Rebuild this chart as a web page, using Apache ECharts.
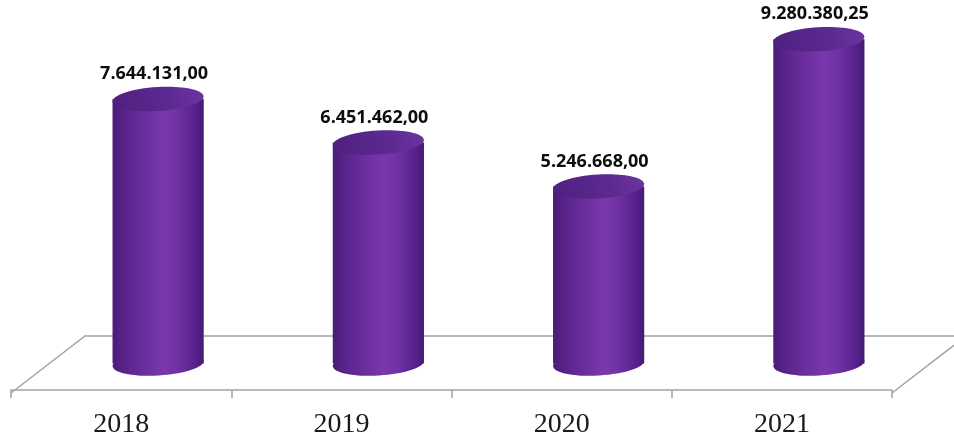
<!DOCTYPE html>
<html>
<head>
<meta charset="utf-8">
<style>
  html, body { margin: 0; padding: 0; background: #ffffff; }
  #chart { width: 954px; height: 439px; }
</style>
<script src="https://cdn.jsdelivr.net/npm/echarts@6/dist/echarts.min.js"></script>
</head>
<body>
<div id="chart"></div>
<script>
// Yearly totals
const categories = ['2018', '2019', '2020', '2021'];
const values = [7644131.00, 6451462.00, 5246668.00, 9280380.25];

// Layout of the pseudo-3D floor
const W = 954, H = 439;
const PLOT = { left: 11, right: 62, top: 13, bottom: 61 };   // cylinders (value 0 at bottom)
const FRONT_BOTTOM = 46;     // front edge of the floor, where the category axis is drawn
const DEPTH_X = 74;          // horizontal shift of the floor's back edge
const DEPTH_Y = 57;          // vertical shift of the floor's back edge
const TILT = 0.06;           // slight rotation of the cylinder caps

const axisY = H - FRONT_BOTTOM;
const frontL = PLOT.left, frontR = W - PLOT.right;

function formatNumber(v) {
  const fixed = v.toFixed(2);
  const parts = fixed.split('.');
  const intPart = parts[0].replace(/\B(?=(\d{3})+(?!\d))/g, '.');
  return intPart + ',' + parts[1];
}

const bodyStops = [
  { offset: 0, color: '#4a1b77' },
  { offset: 0.18, color: '#5d268f' },
  { offset: 0.55, color: '#7a37ad' },
  { offset: 0.7, color: '#7132a4' },
  { offset: 0.92, color: '#55208a' },
  { offset: 1, color: '#461a6f' }
];

function renderCylinder(params, api) {
  const idx = api.value(0);
  const top = api.coord([idx, api.value(1)]);
  const band = api.size([1, 0])[0];
  const rx = band * 0.207;
  const ry = 12;
  const cx = top[0] + DEPTH_X / 2;
  const baseY = axisY - DEPTH_Y / 2 - 1;
  const topY = top[1];
  const bodyFill = () => new echarts.graphic.LinearGradient(0, 0, 1, 0, bodyStops);
  return {
    type: 'group',
    children: [
      {
        type: 'ellipse',
        x: cx, y: baseY, rotation: TILT,
        shape: { cx: 0, cy: 0, rx: rx, ry: ry },
        style: { fill: bodyFill() }
      },
      {
        type: 'rect',
        shape: { x: cx - rx, y: topY, width: rx * 2, height: baseY - topY },
        style: { fill: bodyFill() }
      },
      {
        type: 'ellipse',
        x: cx, y: topY, rotation: TILT,
        shape: { cx: 0, cy: 0, rx: rx, ry: ry },
        style: {
          fill: new echarts.graphic.LinearGradient(0, 1, 1, 0, [
            { offset: 0, color: '#4e2080' },
            { offset: 0.6, color: '#5c2990' },
            { offset: 1, color: '#6c35a2' }
          ])
        }
      },
      {
        type: 'text',
        x: cx - 4, y: topY - 25,
        style: {
          text: formatNumber(api.value(1)),
          fontFamily: 'Open Sans',
          fontWeight: 'bold',
          fontSize: 18,
          fill: '#0d0d0d',
          align: 'center',
          verticalAlign: 'middle'
        }
      }
    ]
  };
}

const chart = echarts.init(document.getElementById('chart'), null, { renderer: 'canvas' });

chart.setOption({
  animation: false,
  backgroundColor: '#ffffff',
  grid: [
    { left: PLOT.left, right: PLOT.right, top: PLOT.top, bottom: PLOT.bottom },
    { left: PLOT.left, right: PLOT.right, top: H - FRONT_BOTTOM - 10, bottom: FRONT_BOTTOM }
  ],
  xAxis: [
    {
      gridIndex: 0,
      type: 'category',
      data: categories,
      boundaryGap: true,
      show: false
    },
    {
      gridIndex: 1,
      type: 'category',
      data: categories,
      boundaryGap: true,
      axisLine: { show: true, lineStyle: { color: '#a3a3a3', width: 1.5 } },
      axisTick: { show: true, length: 8, lineStyle: { color: '#a3a3a3', width: 1.5 } },
      axisLabel: {
        margin: 21,
        fontFamily: 'Liberation Serif',
        fontSize: 28,
        color: '#1a1a1a'
      },
      splitLine: { show: false }
    }
  ],
  yAxis: [
    { gridIndex: 0, type: 'value', min: 0, max: 10000000, show: false, splitLine: { show: false } },
    { gridIndex: 1, type: 'value', min: 0, max: 1, show: false, splitLine: { show: false } }
  ],
  graphic: [
    {
      type: 'polyline',
      z: 0,
      silent: true,
      shape: {
        points: [
          [frontL, axisY],
          [frontL + DEPTH_X, axisY - DEPTH_Y],
          [frontR + DEPTH_X, axisY - DEPTH_Y],
          [frontR, axisY]
        ]
      },
      style: { stroke: '#a3a3a3', lineWidth: 1.5, fill: null }
    }
  ],
  series: [
    {
      type: 'custom',
      xAxisIndex: 0,
      yAxisIndex: 0,
      z: 5,
      renderItem: renderCylinder,
      encode: { x: 0, y: 1 },
      data: values.map((v, i) => [i, v])
    }
  ]
});
</script>
</body>
</html>
